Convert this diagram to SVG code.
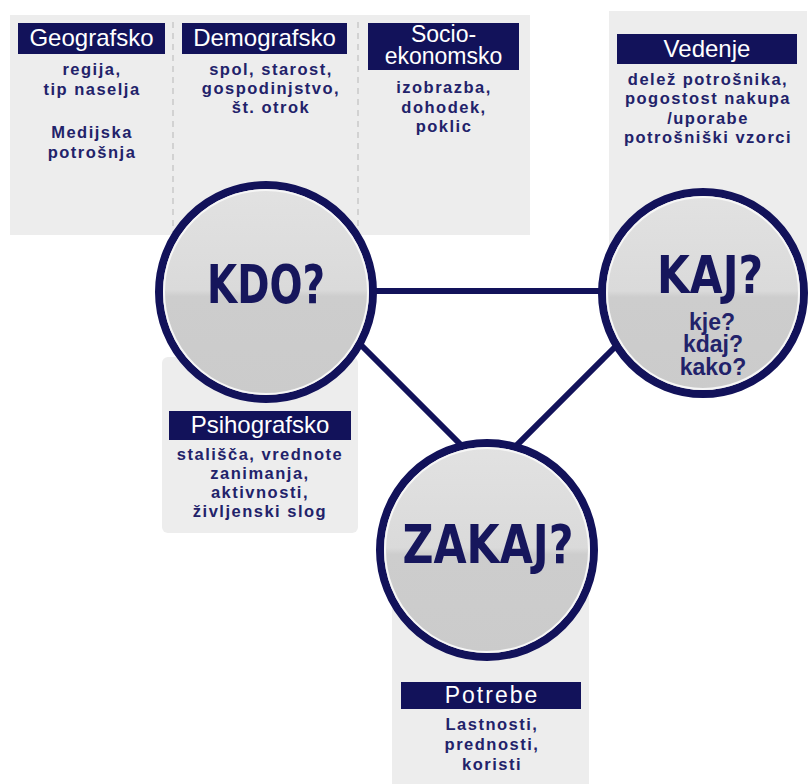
<svg xmlns="http://www.w3.org/2000/svg" width="809" height="784" viewBox="0 0 809 784">
  <defs>
    <style>
      .panel { fill: #ededed; }
      .divider { stroke: #c9c9c9; stroke-width: 1.5; stroke-dasharray: 6 5; fill: none; }
      .tag { fill: #12125a; }
      .tagtext { font-family: "Liberation Sans", Arial, sans-serif; font-size: 24px; fill: #ffffff; text-anchor: middle; }
      .tagtext2 { font-family: "Liberation Sans", Arial, sans-serif; font-size: 23px; fill: #ffffff; text-anchor: middle; }
      .body { font-family: "Liberation Sans", Arial, sans-serif; font-size: 16.5px; font-weight: bold; letter-spacing: 1.5px; fill: #22226a; text-anchor: middle; }
      .ring { fill: url(#bulb); stroke: #12125a; stroke-width: 8; }
      .inner { fill: none; stroke: #f6f6f6; stroke-width: 2; }
      .big { font-family: "Liberation Sans Narrow", "DejaVu Sans Condensed", "Liberation Sans", sans-serif; font-weight: bold; fill: #16165c; text-anchor: middle; }
      .small { font-family: "Liberation Sans", Arial, sans-serif; font-size: 23px; font-weight: bold; fill: #22226a; text-anchor: middle; }
      .link { stroke: #12125a; stroke-width: 6; fill: none; }
    </style>
    <linearGradient id="bulb" x1="0" y1="0" x2="0" y2="1">
      <stop offset="0" stop-color="#e2e2e2"/>
      <stop offset="0.49" stop-color="#dadada"/>
      <stop offset="0.52" stop-color="#cdcdcd"/>
      <stop offset="1" stop-color="#cbcbcb"/>
    </linearGradient>
  </defs>

  <rect width="809" height="784" fill="#ffffff"/>

  <!-- background panels -->
  <g id="panels">
    <rect class="panel" x="10" y="15" width="520" height="220"/>
    <line class="divider" x1="173" y1="22" x2="173" y2="232"/>
    <line class="divider" x1="358" y1="22" x2="358" y2="232"/>
    <rect class="panel" x="609" y="11" width="198" height="285"/>
    <rect class="panel" x="162" y="357" width="196" height="176" rx="6"/>
    <rect class="panel" x="392" y="550" width="197" height="234"/>
  </g>

  <!-- connectors -->
  <g id="connectors">
    <line class="link" x1="360" y1="291" x2="610" y2="291"/>
    <line class="link" x1="340" y1="324" x2="470" y2="454"/>
    <line class="link" x1="640" y1="322" x2="500" y2="462"/>
  </g>

  <!-- KDO -->
  <g id="node-kdo">
    <circle class="ring" cx="266" cy="292" r="107"/>
    <circle class="inner" cx="266" cy="292" r="102"/>
    <text class="big" x="266" y="303" font-size="54" textLength="118" lengthAdjust="spacingAndGlyphs">KDO?</text>
  </g>

  <!-- KAJ -->
  <g id="node-kaj">
    <circle class="ring" cx="703" cy="293" r="101"/>
    <circle class="inner" cx="703" cy="293" r="96"/>
    <text class="big" x="710" y="293" font-size="51" textLength="106" lengthAdjust="spacingAndGlyphs">KAJ?</text>
    <text class="small" x="712" y="330">kje?</text>
    <text class="small" x="713" y="352">kdaj?</text>
    <text class="small" x="713" y="375">kako?</text>
  </g>

  <!-- ZAKAJ -->
  <g id="node-zakaj">
    <circle class="ring" cx="487" cy="550" r="107"/>
    <circle class="inner" cx="487" cy="550" r="102"/>
    <text class="big" x="488" y="563" font-size="54" textLength="171" lengthAdjust="spacingAndGlyphs">ZAKAJ?</text>
  </g>

  <!-- Geografsko -->
  <g id="geografsko">
    <rect class="tag" x="18" y="23" width="147" height="31"/>
    <text class="tagtext" x="91.5" y="46">Geografsko</text>
    <text class="body" x="92" y="75">regija,</text>
    <text class="body" x="92" y="95">tip naselja</text>
    <text class="body" x="92" y="138">Medijska</text>
    <text class="body" x="92" y="158">potrošnja</text>
  </g>

  <!-- Demografsko -->
  <g id="demografsko">
    <rect class="tag" x="182" y="23" width="165" height="31"/>
    <text class="tagtext" x="264.5" y="46">Demografsko</text>
    <text class="body" x="271" y="75">spol, starost,</text>
    <text class="body" x="271" y="94">gospodinjstvo,</text>
    <text class="body" x="271" y="113">št. otrok</text>
  </g>

  <!-- Socio-ekonomsko -->
  <g id="socio-ekonomsko">
    <rect class="tag" x="368" y="23" width="151" height="47"/>
    <text class="tagtext2" x="443.5" y="42">Socio-</text>
    <text class="tagtext2" x="443.5" y="64">ekonomsko</text>
    <text class="body" x="444" y="93">izobrazba,</text>
    <text class="body" x="444" y="113">dohodek,</text>
    <text class="body" x="444" y="132">poklic</text>
  </g>

  <!-- Vedenje -->
  <g id="vedenje">
    <rect class="tag" x="617" y="34" width="180" height="30"/>
    <text class="tagtext" x="707" y="57">Vedenje</text>
    <text class="body" x="708" y="85">delež potrošnika,</text>
    <text class="body" x="708" y="104">pogostost nakupa</text>
    <text class="body" x="708" y="124">/uporabe</text>
    <text class="body" x="708" y="143">potrošniški vzorci</text>
  </g>

  <!-- Psihografsko -->
  <g id="psihografsko">
    <rect class="tag" x="169" y="411" width="182" height="29"/>
    <text class="tagtext" x="260" y="433">Psihografsko</text>
    <text class="body" x="260" y="460">stališča, vrednote</text>
    <text class="body" x="260" y="479">zanimanja,</text>
    <text class="body" x="260" y="498">aktivnosti,</text>
    <text class="body" x="260" y="517">življenski slog</text>
  </g>

  <!-- Potrebe -->
  <g id="potrebe">
    <rect class="tag" x="401" y="682" width="180" height="27"/>
    <text class="tagtext2" x="492" y="703" letter-spacing="2">Potrebe</text>
    <text class="body" x="492" y="730">Lastnosti,</text>
    <text class="body" x="492" y="750">prednosti,</text>
    <text class="body" x="492" y="770">koristi</text>
  </g>
</svg>
